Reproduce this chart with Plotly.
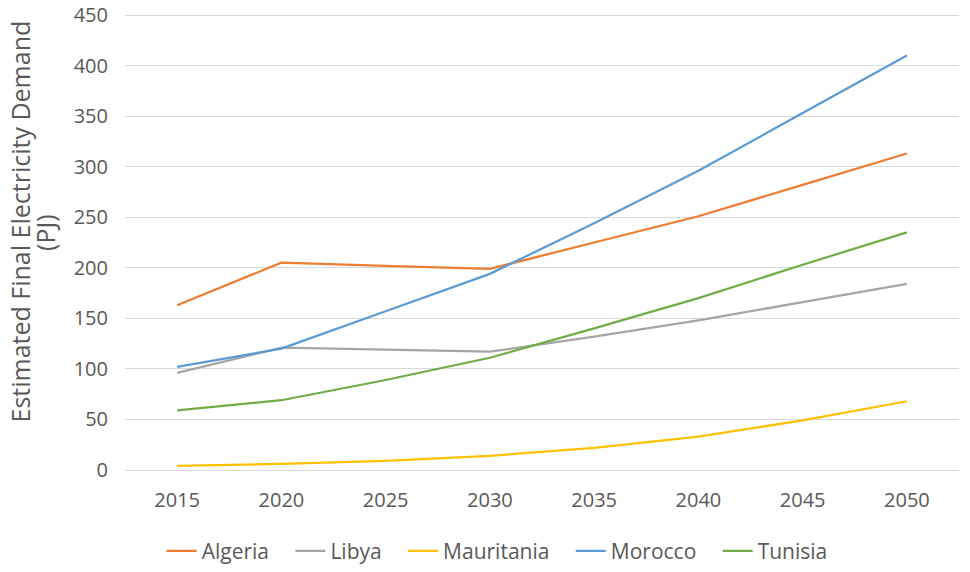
import plotly.graph_objects as go

years = ["2015", "2020", "2025", "2030", "2035", "2040", "2045", "2050"]
algeria = [163, 205, 202, 199, 225, 251, 282, 313]
libya = [96, 121, 119, 117, 132, 148, 166, 184]
mauritania = [4, 6, 9, 14, 22, 33, 49, 68]
morocco = [102, 120, 157, 194, 244, 296, 353, 410]
tunisia = [59, 69, 89, 111, 140, 170, 203, 235]

series = [
    ("Algeria", algeria, "#ED7D31"),
    ("Libya", libya, "#A5A5A5"),
    ("Mauritania", mauritania, "#FFC000"),
    ("Morocco", morocco, "#5B9BD5"),
    ("Tunisia", tunisia, "#70AD47"),
]

font_family = "Open Sans, sans-serif"
grey = "#595959"
pad = "\u00a0\u00a0\u00a0"  # wider gaps between legend entries, as in the original

fig = go.Figure()
for i, (name, vals, color) in enumerate(series):
    fig.add_trace(go.Scatter(
        x=years, y=vals, mode="lines",
        name=name + (pad if i < len(series) - 1 else ""),
        line=dict(color=color, width=2.25),
    ))

# page body adds ~8px, so the figure is sized a bit smaller than the window
fig.update_layout(
    width=962, height=564,
    margin=dict(l=117, r=11, t=6, b=102, autoexpand=False),
    plot_bgcolor="white", paper_bgcolor="white",
    font=dict(family=font_family, color=grey, size=20),
    showlegend=True,
    legend=dict(
        orientation="h", x=0.044, xanchor="left", y=-0.178, yanchor="middle",
        font=dict(size=21, color=grey), itemwidth=30,
    ),
    xaxis=dict(
        type="category", range=[-0.5, 7.5], showgrid=False,
        showline=False, ticks="outside", ticklen=12, tickcolor="white",
        tickfont=dict(size=20, color=grey),
    ),
    yaxis=dict(
        range=[0, 451], tickvals=[0, 50, 100, 150, 200, 250, 300, 350, 400, 450],
        gridcolor="#D9D9D9", gridwidth=1.3,
        zeroline=True, zerolinecolor="#D9D9D9", zerolinewidth=1.3,
        tickfont=dict(size=20, color=grey), ticklen=12, ticks="outside",
        tickcolor="white", ticklabeloverflow="allow",
    ),
    annotations=[
        dict(text="Estimated Final Electricity Demand", textangle=-90,
             xref="paper", yref="paper", x=0, y=0.545, xshift=-105,
             xanchor="center", yanchor="middle", showarrow=False,
             font=dict(size=25, color=grey)),
        dict(text="(PJ)", textangle=-90,
             xref="paper", yref="paper", x=0, y=0.52, xshift=-80,
             xanchor="center", yanchor="middle", showarrow=False,
             font=dict(size=25, color=grey)),
    ],
)

fig.write_html("out.html")
